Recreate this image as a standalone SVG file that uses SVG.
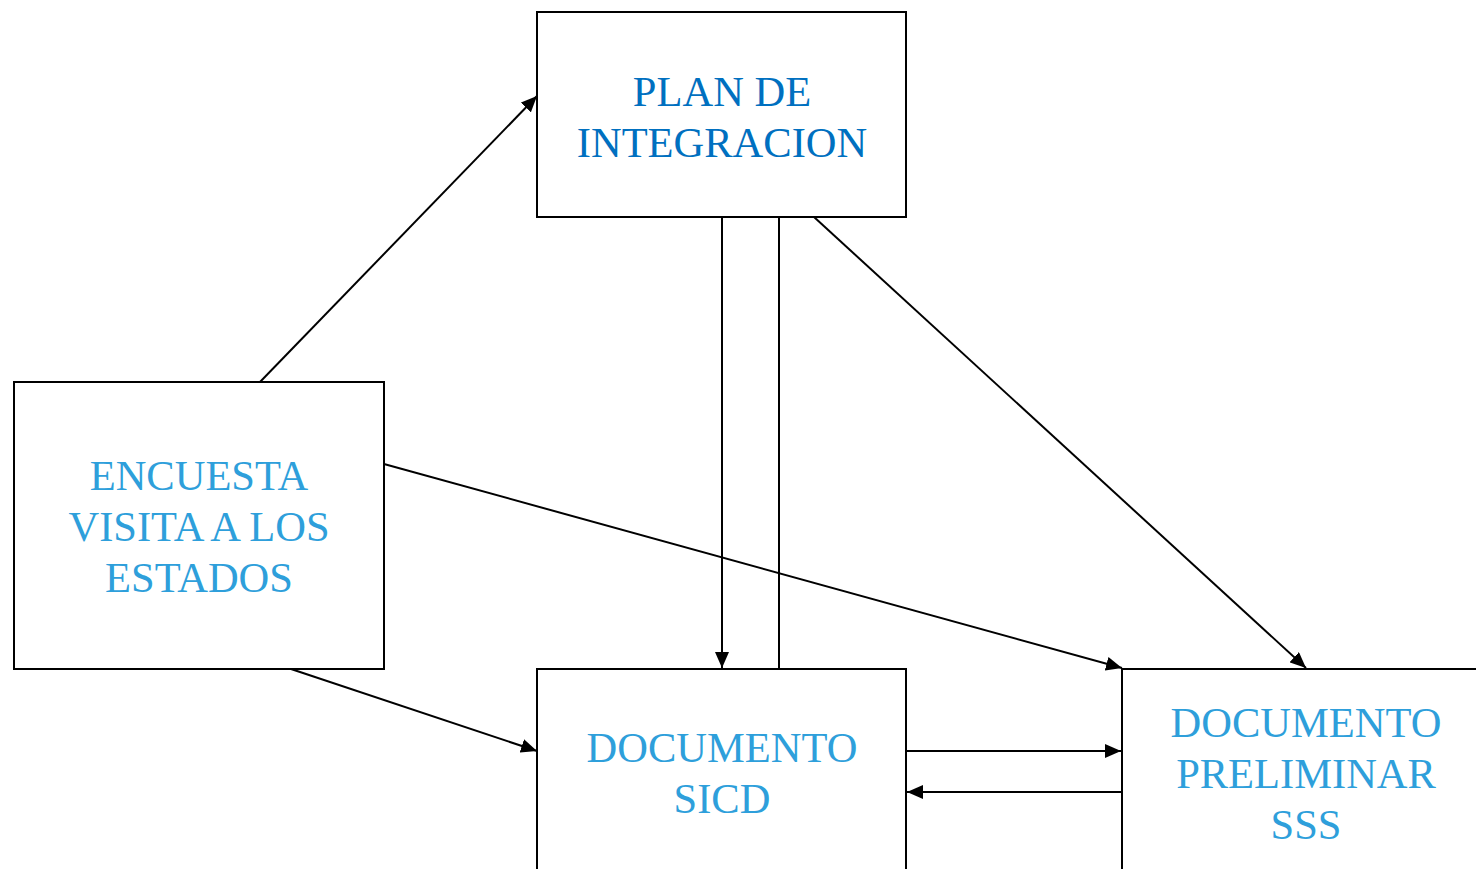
<svg xmlns="http://www.w3.org/2000/svg" width="1476" height="869" viewBox="0 0 1476 869">
<defs>
<marker id="ah" viewBox="0 0 16 14" refX="16" refY="7" markerWidth="16" markerHeight="14" markerUnits="userSpaceOnUse" orient="auto">
<path d="M0,0 L16,7 L0,14 z" fill="#000"/>
</marker>
<style>
.box{fill:#fff;stroke:#000;stroke-width:2}
.t{font-family:"Liberation Serif","Times New Roman",serif;font-size:42.5px;text-anchor:middle}
.dk{fill:#0070C0}
.lt{fill:#2E9FDB}
.c{stroke:#000;stroke-width:2;fill:none}
.a{marker-end:url(#ah)}
</style>
</defs>
<rect width="1476" height="869" fill="#fff"/>
<g id="plan">
<rect class="box" x="537" y="12" width="369" height="205"/>
<text class="t dk" x="722" y="106">PLAN DE</text>
<text class="t dk" x="722" y="157">INTEGRACION</text>
</g>
<g id="encuesta">
<rect class="box" x="14" y="382" width="370" height="287"/>
<text class="t lt" x="199" y="490">ENCUESTA</text>
<text class="t lt" x="199" y="541">VISITA A LOS</text>
<text class="t lt" x="199" y="592">ESTADOS</text>
</g>
<g id="sicd">
<rect class="box" x="537" y="669" width="369" height="220"/>
<text class="t lt" x="722" y="762">DOCUMENTO</text>
<text class="t lt" x="722" y="813">SICD</text>
</g>
<g id="sss">
<rect class="box" x="1122" y="669" width="370" height="220"/>
<text class="t lt" x="1306" y="737">DOCUMENTO</text>
<text class="t lt" x="1306" y="788">PRELIMINAR</text>
<text class="t lt" x="1306" y="839">SSS</text>
</g>
<g id="connectors">
<line class="c a" x1="260" y1="382" x2="537" y2="96"/>
<line class="c a" x1="722" y1="217" x2="722" y2="668"/>
<line class="c" x1="779" y1="217" x2="779" y2="669"/>
<line class="c a" x1="814" y1="217" x2="1306" y2="668"/>
<line class="c a" x1="384" y1="464" x2="1122" y2="668"/>
<line class="c a" x1="291" y1="669" x2="537" y2="751"/>
<line class="c a" x1="906" y1="751" x2="1121" y2="751"/>
<line class="c a" x1="1122" y1="792" x2="907" y2="792"/>
</g>
</svg>
